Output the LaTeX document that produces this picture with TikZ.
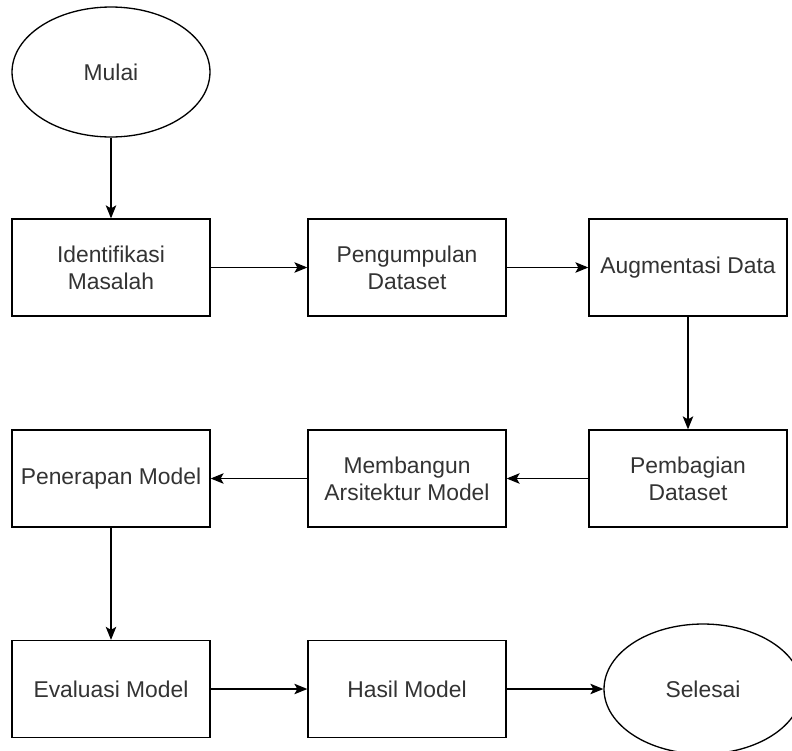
\documentclass[tikz,border=0pt]{standalone}
\usepackage{fontspec}
\setmainfont{Liberation Sans}
\usetikzlibrary{shapes.geometric,arrows.meta}
\definecolor{textgray}{HTML}{333333}
\tikzset{
  langkah/.style={draw, line width=0.75pt, minimum width=3.96cm, minimum height=1.94cm,
    inner sep=0pt, align=center, text=textgray, font=\fontsize{13}{15.5}\selectfont},
  terminal/.style={langkah, ellipse, minimum height=2.6cm},
  alur/.style={line width=0.75pt, -{Stealth[length=0.26cm, width=0.21cm, inset=0.06cm]}},
}

\begin{document}
\begin{tikzpicture}[x=0.02cm, y=-0.02cm]
  \useasboundingbox (0,0) rectangle (792,751);

  % Baris atas
  \node[terminal] (mulai) at (111, 72) {Mulai};
  \node[langkah] (identifikasi) at (111, 267.5) {Identifikasi\\Masalah};
  \node[langkah] (pengumpulan) at (407, 267.5) {Pengumpulan\\Dataset};
  \node[langkah] (augmentasi) at (688, 267.5) {Augmentasi Data};

  % Baris tengah
  \node[langkah] (pembagian) at (688, 478.5) {Pembagian\\Dataset};
  \node[langkah] (arsitektur) at (407, 478.5) {Membangun\\Arsitektur Model};
  \node[langkah] (penerapan) at (111, 478.5) {Penerapan Model};

  % Baris bawah
  \node[langkah] (evaluasi) at (111, 689) {Evaluasi Model};
  \node[langkah] (hasil) at (407, 689) {Hasil Model};
  \node[terminal] (selesai) at (703, 689) {Selesai};

  \draw[alur] (mulai) -- (identifikasi);
  \draw[alur] (identifikasi) -- (pengumpulan);
  \draw[alur] (pengumpulan) -- (augmentasi);
  \draw[alur] (augmentasi) -- (pembagian);
  \draw[alur] (pembagian) -- (arsitektur);
  \draw[alur] (arsitektur) -- (penerapan);
  \draw[alur] (penerapan) -- (evaluasi);
  \draw[alur] (evaluasi) -- (hasil);
  \draw[alur] (hasil) -- (selesai);
\end{tikzpicture}
\end{document}
